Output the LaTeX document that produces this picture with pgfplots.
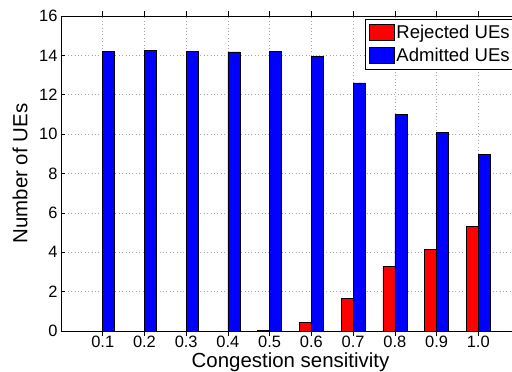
\documentclass[border=0pt]{standalone}
\usepackage{pgfplots}
\pgfplotsset{compat=1.18}
\usepackage{fontspec}
\setmainfont{Liberation Sans}
\definecolor{mred}{RGB}{255,0,0}
\definecolor{mblue}{RGB}{0,0,255}
\begin{document}
\begin{tikzpicture}
\begin{axis}[
  scale only axis,
  width=459bp, height=315bp,
  xmin=0, xmax=11, ymin=0, ymax=16,
  xtick={1,2,3,4,5,6,7,8,9,10},
  xticklabels={0.1,0.2,0.3,0.4,0.5,0.6,0.7,0.8,0.9,1.0},
  ytick={0,2,4,6,8,10,12,14,16},
  tick align=inside,
  major tick length=4.5bp,
  axis line style={line width=0.8bp},
  tick style={line width=0.6bp, black},
  grid=major,
  major grid style={gray!70, line width=0.5bp, dash pattern=on 0.8bp off 2.6bp},
  /pgf/number format/assume math mode=true,
  tick label style={font=\fontsize{16.5}{19}\selectfont},
  x tick label style={yshift=3bp},
  xlabel={Congestion sensitivity},
  ylabel={Number of UEs},
  every axis x label/.style={at={(axis description cs:0.5,-0.0984)}, anchor=center, font=\fontsize{20.5}{24}\selectfont},
  every axis y label/.style={at={(axis description cs:-0.0893,0.5)}, anchor=center, rotate=90, font=\fontsize{20.5}{24}\selectfont},
  ybar, bar width=0.288,
  legend style={at={(axis cs:11,16)}, anchor=north east, xshift=-4bp, yshift=-3bp,
    font=\fontsize{18.6}{22}\selectfont, draw=black, line width=0.6bp,
    inner sep=4bp, row sep=4bp,
    cells={anchor=west}},
  legend image code/.code={\draw[#1, line width=0.6bp] (0bp,-8bp) rectangle (25bp,8bp);},
]
\addplot[fill=mred, draw=black, line width=0.6bp, bar shift=-0.144] coordinates {
  (5,0.03) (6,0.44) (7,1.64) (8,3.30) (9,4.15) (10,5.30)
};
\addlegendentry{Rejected UEs}
\addplot[fill=mblue, draw=black, line width=0.6bp, bar shift=0.144] coordinates {
  (1,14.19) (2,14.25) (3,14.22) (4,14.18) (5,14.20) (6,13.95) (7,12.60) (8,11.02) (9,10.10) (10,8.99)
};
\addlegendentry{Admitted UEs}
\end{axis}
\pgfresetboundingbox
\path[use as bounding box] ([shift={(-61bp,-41bp)}]current axis.south west) rectangle ([shift={(451bp,16bp)}]current axis.north west);
\end{tikzpicture}
\end{document}
